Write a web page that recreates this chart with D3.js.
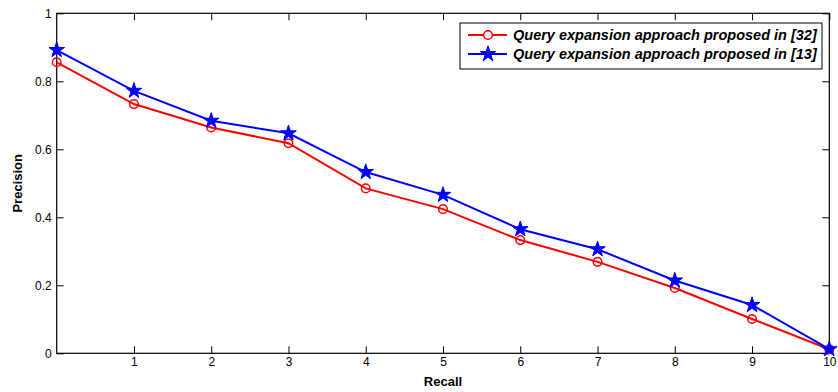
<!DOCTYPE html>
<html>
<head>
<meta charset="utf-8">
<script src="https://cdn.jsdelivr.net/npm/d3@7"></script>
<style>
  body { margin: 0; background: #fff; }
  text { font-family: Arial, "Liberation Sans", sans-serif; }
</style>
</head>
<body>
<div id="chart"></div>
<script>
// recall points and precision values
const recall = [0, 1, 2, 3, 4, 5, 6, 7, 8, 9, 10];
const precision32 = [0.856, 0.733, 0.664, 0.618, 0.485, 0.424, 0.333, 0.269, 0.192, 0.101, 0.012];
const precision13 = [0.892, 0.772, 0.684, 0.647, 0.533, 0.466, 0.365, 0.306, 0.214, 0.142, 0.012];
const xTicks = [1, 2, 3, 4, 5, 6, 7, 8, 9, 10];
const yTicks = [0, 0.2, 0.4, 0.6, 0.8, 1];
const seriesNames = ['Query expansion approach proposed in [32]', 'Query expansion approach proposed in [13]'];

const W = 838, H = 392;
const margin = { top: 13.3, right: 8.7, bottom: 38.7, left: 56.7 };
const width = W - margin.left - margin.right;
const height = H - margin.top - margin.bottom;

const svg = d3.select('#chart').append('svg')
  .attr('width', W)
  .attr('height', H);

const g = svg.append('g')
  .attr('transform', 'translate(' + margin.left + ',' + margin.top + ')');

const x = d3.scaleLinear().domain([0, 10]).range([0, width]);
const y = d3.scaleLinear().domain([0, 1]).range([height, 0]);

// axes with inward ticks, mirrored on top/right like matlab
const tickLen = 7;
g.append('g')
  .attr('transform', 'translate(0,' + height + ')')
  .call(d3.axisBottom(x).tickValues(xTicks).tickSizeInner(-tickLen).tickSizeOuter(0).tickPadding(4).tickFormat(d3.format('d')));
g.append('g')
  .call(d3.axisTop(x).tickValues(xTicks).tickSizeInner(-tickLen).tickSizeOuter(0).tickFormat(''));
g.append('g')
  .call(d3.axisLeft(y).tickValues(yTicks).tickSizeInner(-tickLen).tickSizeOuter(0).tickPadding(5).tickFormat(d3.format('')));
g.append('g')
  .attr('transform', 'translate(' + width + ',0)')
  .call(d3.axisRight(y).tickValues(yTicks).tickSizeInner(-tickLen).tickSizeOuter(0).tickFormat(''));

g.selectAll('.domain').remove();
g.append('rect')
  .attr('width', width).attr('height', height)
  .attr('fill', 'none').attr('stroke', '#000').attr('stroke-width', 1.2);

g.selectAll('.tick line').attr('stroke', '#000').attr('stroke-width', 1);
g.selectAll('.tick text').attr('font-size', 12).attr('fill', '#000');

// axis labels
svg.append('text')
  .attr('x', margin.left + width / 2)
  .attr('y', 386)
  .attr('text-anchor', 'middle')
  .attr('font-size', 13).attr('font-weight', 'bold')
  .text('Recall');
svg.append('text')
  .attr('transform', 'translate(22,' + (margin.top + height / 2) + ') rotate(-90)')
  .attr('text-anchor', 'middle')
  .attr('font-size', 13).attr('font-weight', 'bold')
  .text('Precision');

const line = d3.line()
  .x(d => x(d[0]))
  .y(d => y(d[1]));

const star = d3.symbol().type(d3.symbolStar).size(75);

const data32 = recall.map((r, i) => [r, precision32[i]]);
const data13 = recall.map((r, i) => [r, precision13[i]]);

g.append('path')
  .datum(data32)
  .attr('d', line)
  .attr('fill', 'none').attr('stroke', '#ff0000').attr('stroke-width', 2);
g.selectAll('.c32')
  .data(data32)
  .enter().append('circle')
  .attr('class', 'c32')
  .attr('cx', d => x(d[0])).attr('cy', d => y(d[1]))
  .attr('r', 4.3)
  .attr('fill', 'none').attr('stroke', '#ff0000').attr('stroke-width', 1.5);

g.append('path')
  .datum(data13)
  .attr('d', line)
  .attr('fill', 'none').attr('stroke', '#0000ff').attr('stroke-width', 2);
g.selectAll('.s13')
  .data(data13)
  .enter().append('path')
  .attr('class', 's13')
  .attr('transform', d => 'translate(' + x(d[0]) + ',' + y(d[1]) + ')')
  .attr('d', star)
  .attr('fill', '#0000ff').attr('stroke', '#0000ff').attr('stroke-width', 1);

// legend
const lg = svg.append('g').attr('transform', 'translate(460,23)');
lg.append('rect')
  .attr('width', 362).attr('height', 46)
  .attr('fill', '#fff').attr('stroke', '#000').attr('stroke-width', 1);

const rows = [
  { name: seriesNames[0], color: '#ff0000', marker: 'circle' },
  { name: seriesNames[1], color: '#0000ff', marker: 'star' }
];
rows.forEach((r, i) => {
  const ry = 12 + i * 19;
  lg.append('line')
    .attr('x1', 8).attr('x2', 47).attr('y1', ry).attr('y2', ry)
    .attr('stroke', r.color).attr('stroke-width', 2);
  if (r.marker === 'circle') {
    lg.append('circle').attr('cx', 28).attr('cy', ry).attr('r', 4.3)
      .attr('fill', '#fff').attr('stroke', r.color).attr('stroke-width', 1.5);
  } else {
    lg.append('path').attr('transform', 'translate(28,' + ry + ')').attr('d', star)
      .attr('fill', r.color).attr('stroke', r.color).attr('stroke-width', 1);
  }
  lg.append('text')
    .attr('x', 53).attr('y', ry + 5)
    .attr('font-size', 14.5).attr('font-weight', 'bold').attr('font-style', 'italic')
    .text(r.name);
});
</script>
</body>
</html>
